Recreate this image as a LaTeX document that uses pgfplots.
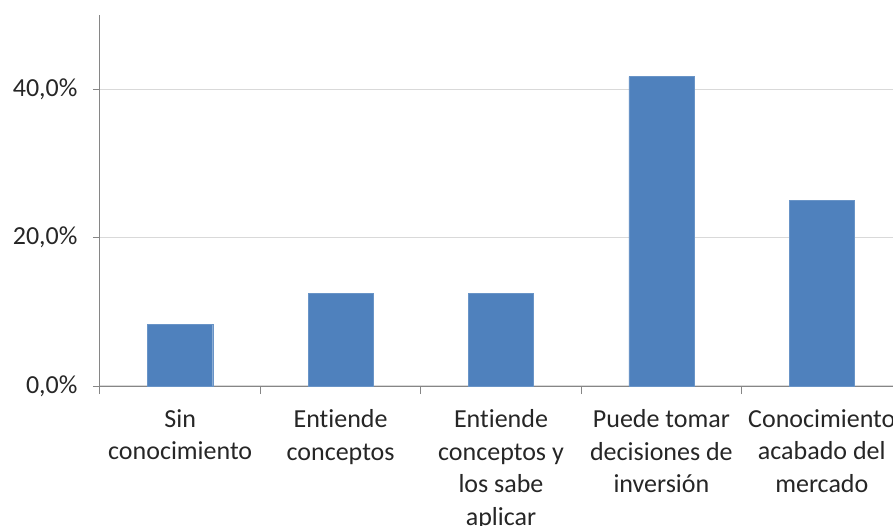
\documentclass[border=0pt]{standalone}
\usepackage{pgfplots}
\pgfplotsset{compat=1.18}
\usepackage{fontspec}
\setmainfont{Carlito}[Ligatures=NoCommon]
\definecolor{barblue}{HTML}{4F81BD}
\definecolor{gridgray}{HTML}{D9D9D9}
\definecolor{axisgray}{HTML}{868686}
\definecolor{textgray}{HTML}{262626}

\pgfplotstableread{
x  share
0  8.3
1  12.5
2  12.5
3  41.7
4  25.0
}\knowledge

\begin{document}
\begin{tikzpicture}
\begin{axis}[
  at={(0pt,0pt)}, anchor=south west,
  scale only axis,
  width=802pt, height=371pt,
  xmin=-0.5, xmax=4.5,
  ymin=0, ymax=50,
  axis x line*=bottom, axis y line*=left,
  axis line style={axisgray, line width=1pt},
  font=\fontsize{26}{32.5}\selectfont,
  tick label style={textgray},
  xtick={0,1,2,3,4},
  xticklabels={
    {Sin\\conocimiento},
    {Entiende\\conceptos},
    {Entiende\\conceptos y\\los sabe\\aplicar},
    {Puede tomar\\decisiones de\\inversión},
    {Conocimiento\\acabado del\\mercado}},
  xticklabel style={align=center, yshift=-13pt},
  major x tick style={draw=none},
  minor xtick={-0.5,0.5,1.5,2.5,3.5,4.5},
  minor x tick style={axisgray, line width=1pt},
  minor tick length=8pt,
  ytick={0,20,40},
  yticklabels={{0,0\%},{20,0\%},{40,0\%}},
  yticklabel style={xshift=-12pt},
  major y tick style={axisgray, line width=1pt},
  major tick length=7pt,
  tick align=outside,
  ymajorgrids,
  major grid style={gridgray, line width=1.2pt},
  clip=false,
]
\addplot[ybar, bar width=65pt, fill=barblue, draw=barblue!85!white]
  table[x=x, y=share] {\knowledge};
\end{axis}
\pgfresetboundingbox
\path[use as bounding box] (-100pt,-139pt) rectangle (793pt,386pt);
\end{tikzpicture}
\end{document}
